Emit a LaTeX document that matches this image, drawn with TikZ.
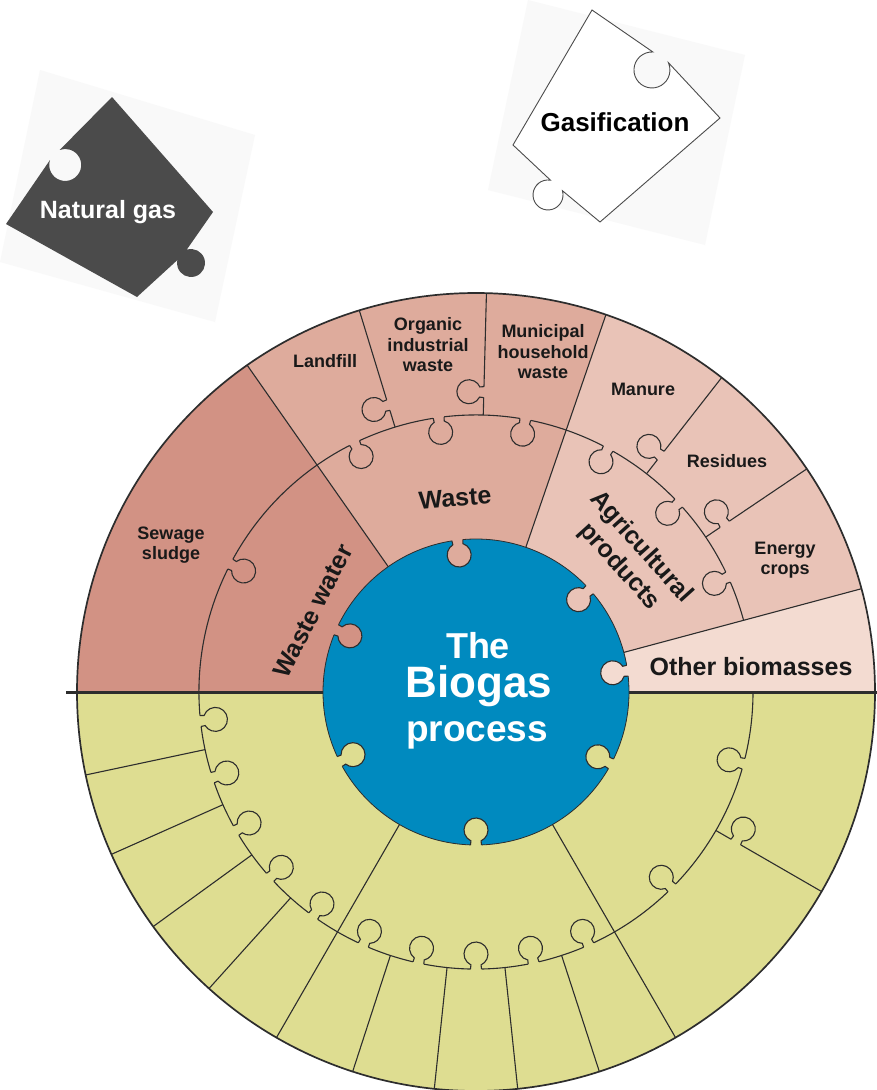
\documentclass[tikz,border=0pt]{standalone}
\usepackage{fontspec}
\setmainfont{Liberation Sans}
\definecolor{sew}{RGB}{210,146,132}
\definecolor{wst}{RGB}{222,171,156}
\definecolor{agr}{RGB}{233,195,183}
\definecolor{oth}{RGB}{243,219,209}
\definecolor{yel}{RGB}{222,221,145}
\definecolor{blu}{RGB}{0,138,191}
\definecolor{ngas}{RGB}{75,75,75}
\definecolor{ink}{RGB}{45,45,45}
\definecolor{txt}{RGB}{25,25,25}
\tikzset{
  seam/.style={draw=ink, line width=1.1pt},
  lbl/.style={font=\bfseries\fontsize{18}{20.5}\selectfont, text=txt, align=center, inner sep=0pt},
  midlbl/.style={font=\bfseries\fontsize{25}{29}\selectfont, text=txt, align=center, inner sep=0pt},
  pics/knob/.style={code={
    \fill[fill=#1] (-5.5,-2.2) -- (-5.5,0) .. controls (-5.2,1.8) .. (-5.07,4.12)
      arc[start angle=245,end angle=-65,radius=12] .. controls (5.2,1.8) .. (5.5,0) -- (5.5,-2.2) -- cycle;
    \draw[seam] (-5.5,0) .. controls (-5.2,1.8) .. (-5.07,4.12)
      arc[start angle=245,end angle=-65,radius=12] .. controls (5.2,1.8) .. (5.5,0);
  }},
}
\begin{document}
\begin{tikzpicture}[x=1pt,y=1pt]
\useasboundingbox (0,-1090) rectangle (877,0);
\fill[white] (0,-1090) rectangle (877,0);
% faint backdrops
\fill[black!2.5] (40,-70) -- (255,-135) -- (215,-322) -- (0,-262) -- cycle;
\fill[black!2.5] (528,0) -- (745,-55) -- (705,-245) -- (488,-190) -- cycle;
% Natural gas piece
\fill[ngas] (6,-224) -- (50,-160) arc[start angle=162, end angle=470, radius=16] -- (112,-97)
  -- (213,-212) -- (186.7,-249.7) arc[start angle=108, end angle=-192, radius=14] -- (137,-297) -- cycle;
\node[font=\bfseries\fontsize{25}{27}\selectfont, text=white, anchor=base, inner sep=0pt] (ng) at (108,-218) {Natural gas};
% Gasification piece
\draw[draw=black!70, line width=0.9pt, fill=white] (592,-10) -- (652.9,-52) arc[start angle=87, end angle=384, radius=18]
  -- (720,-118) -- (600,-222) -- (562.4,-190.7) arc[start angle=16.5, end angle=-279.5, radius=15] -- (513,-145) -- cycle;
\node[font=\bfseries\fontsize{26}{28}\selectfont, text=black, anchor=base, inner sep=0pt] (gs) at (615,-131) {Gasification};
% wheel
\begin{scope}[shift={(476,-692)}]
  \fill[yel] (0,0) -- (180:399) arc[start angle=180,end angle=360,radius=399] -- cycle;
  \fill[oth] (0,0) -- (0:399) arc[start angle=0,end angle=15,radius=399] -- cycle;
  \fill[agr] (0,0) -- (15:399) arc[start angle=15,end angle=71,radius=399] -- cycle;
  \fill[wst] (0,0) -- (71:399) arc[start angle=71,end angle=125,radius=399] -- cycle;
  \fill[sew] (0,0) -- (125:399) arc[start angle=125,end angle=180,radius=399] -- cycle;
  \draw[seam] (15:277) arc[start angle=15,end angle=360,radius=277];
  \foreach \a in {15,71,125,240,300} \draw[seam] (\a:150) -- (\a:399);
  \foreach \a in {34,52,88.5,107,192,204,216,228,252,264,276,288,330} \draw[seam] (\a:277) -- (\a:399);
  \draw[ink, line width=3pt] (-410,0) -- (401,0);
  \draw[ink, line width=1.7pt] (0,0) circle[radius=399];
  \foreach \a/\c in {152.5/sew,116/wst,97.75/wst,79.75/wst,61.5/agr,43/agr,24.5/agr,
      186/yel,198/yel,210/yel,222/yel,234/yel,246/yel,258/yel,270/yel,282/yel,294/yel,315/yel,345/yel}
    \pic[rotate=\a+90] at (\a:277) {knob=\c};
  \foreach \a/\c in {107/wst,88.5/wst,52/agr,34/agr,330/yel}
    \pic[rotate=\a] at (\a:300) {knob=\c};
  \fill[blu, draw=ink, line width=0.8pt] (0,0) circle[radius=153];
  \foreach \a/\c in {156/sew,97/wst,42/agr,8/oth,207/yel,270/yel,332/yel}
    \pic[rotate=\a+90] at (\a:153) {knob=\c};
\end{scope}
% labels
\node[lbl] (sew) at (171,-545) {Sewage\\sludge};
\node[lbl] (lf) at (325,-361) {Landfill};
\node[lbl] (oiw) at (428,-345) {Organic\\industrial\\waste};
\node[lbl] (mhw) at (543,-352) {Municipal\\household\\waste};
\node[lbl] (man) at (643,-389) {Manure};
\node[lbl] (res) at (727,-461) {Residues};
\node[lbl] (enc) at (785,-560) {Energy\\crops};
\node[font=\bfseries\fontsize{25}{27}\selectfont, text=txt, inner sep=0pt] (ob) at (751,-667) {Other biomasses};
\node[midlbl, rotate=5] (ws) at (455,-498) {Waste};
\node[midlbl, rotate=63] (ww) at (313,-611) {Waste water};
\node[midlbl, rotate=-48] (ap) at (630,-557) {Agricultural\\products};
\node[font=\bfseries\fontsize{36}{38}\selectfont, text=white, anchor=base, inner sep=0pt] (t1) at (478,-658) {The};
\node[font=\bfseries\fontsize{44}{46}\selectfont, text=white, anchor=base, inner sep=0pt] (t2) at (479,-697) {Biogas};
\node[font=\bfseries\fontsize{37}{39}\selectfont, text=white, anchor=base, inner sep=0pt] (t3) at (477,-741) {process};
\end{tikzpicture}
\end{document}
